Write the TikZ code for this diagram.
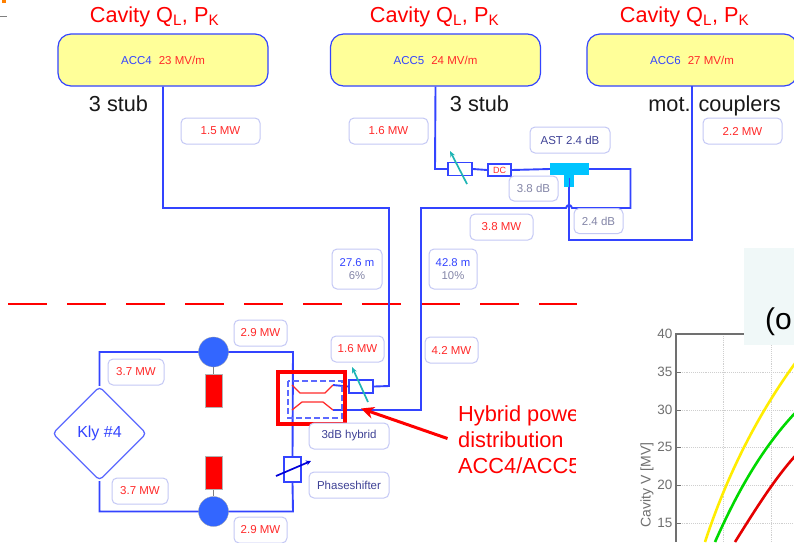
\documentclass[tikz,border=0pt]{standalone}
\usepackage{fontspec}
\setmainfont{Liberation Sans}
\usetikzlibrary{shapes.geometric,arrows.meta}
\definecolor{wire}{HTML}{3344FF}
\definecolor{lab}{HTML}{C4C8F5}
\definecolor{redtxt}{HTML}{FF2A2A}
\definecolor{navy}{HTML}{3F4296}
\definecolor{graytxt}{HTML}{8486A8}
\definecolor{cyanarrow}{HTML}{1FB5B5}
\definecolor{tee}{HTML}{00C4FF}
\definecolor{ball}{HTML}{3366FF}
\definecolor{acc}{HTML}{FFFF99}
\definecolor{axisgray}{HTML}{707070}
\definecolor{gridgray}{HTML}{CFCFCF}
\definecolor{palebox}{HTML}{F0F8F8}
\newcommand{\fs}[1]{\fontsize{#1}{#1}\selectfont}
\tikzset{
  x=1pt,y=-1pt,
  wirepath/.style={draw=wire,line width=1.9pt},
  lbl/.style={draw=lab,line width=1pt,fill=white,rounded corners=5pt,align=center,inner sep=0pt,minimum height=26pt,font=\fs{11.5},text=redtxt},
  lblnavy/.style={lbl,text=navy},
  lblgray/.style={lbl,text=graytxt,minimum height=25pt},
  lblblue/.style={lbl,text=wire,font=\fontsize{11.3}{13}\selectfont},
  accbox/.style={draw=wire,line width=1.2pt,fill=acc,rounded corners=13pt,minimum width=210pt,minimum height=52pt,inner sep=0pt,font=\fs{11.5}},
  title/.style={text=red,font=\fs{21.7},inner sep=0pt},
  stub/.style={text=black!90,font=\fs{21.7},inner sep=0pt,anchor=base},
  compbox/.style={draw=wire,line width=1.9pt,fill=white,inner sep=0pt},
  ballnode/.style={circle,fill=ball,draw=gray!70,line width=0.3pt,minimum size=30pt,inner sep=0pt},
  redblock/.style={rectangle,fill=red,draw=gray!60,line width=0.3pt,minimum width=17pt,minimum height=33pt,inner sep=0pt},
  hybridline/.style={draw=redtxt,line width=1.3pt},
  tick/.style={text=axisgray,font=\fs{13.5},inner sep=0pt,anchor=east},
  gridline/.style={draw=gridgray,line width=0.9pt,densely dotted},
  curveline/.style={line width=2.6pt},
  callout/.style={anchor=base west,inner sep=0pt,text=red,font=\fs{21.8}},
}
\begin{document}
\begin{tikzpicture}
\useasboundingbox (0,0) rectangle (794,542);
\fill[white] (0,0) rectangle (794,542);
% corner marks
\fill[orange] (2,0) rectangle (6,3);
\draw[gray,line width=0.6pt] (0,16) -- (7,16);

% plot
\begin{scope}
\clip (577,240) rectangle (794,542);
\foreach \yy in {372,410,447,485,523} \draw[gridline] (676,\yy) -- (794,\yy);
\foreach \xx in {723,771} \draw[gridline] (\xx,334) -- (\xx,542);
\draw[axisgray,line width=1.2pt] (676,542) -- (676,334) -- (794,334);
\foreach \yy/\tt in {334/40,372/35,410/30,447/25,485/20,523/15}{
  \draw[axisgray,line width=0.8pt] (676,\yy) -- (681,\yy);
  \node[tick] at (672.5,\yy) {\tt};
}
\node[rotate=90,text=axisgray,font=\fs{14},inner sep=0pt] (vlabel) at (647,485) {Cavity V  [MV]};
\draw[curveline,yellow!95!orange] (705,542) .. controls (722,490) and (750,425) .. (796,362);
\draw[curveline,green!85!black] (715,542) .. controls (735,497) and (760,450) .. (796,412);
\draw[curveline,red!90!black] (735,542) .. controls (755,510) and (775,478) .. (796,455);
\fill[palebox] (744,248) rectangle (794,345);
\node[anchor=base west,inner sep=0pt,font=\fs{30},text=black] (opart) at (765,329) {(o};
\end{scope}

% dashed separator
\coordinate (sepL) at (8.4,304);
\coordinate (sepR) at (577,304);
\draw[red,line width=2pt,dash pattern=on 39pt off 20pt] (sepL) -- (sepR);

% cavities
\node[accbox] (acc4) at (163,60) {\textcolor{wire}{ACC4}\hspace{7pt}\textcolor{redtxt}{23 MV/m}};
\node[accbox] (acc5) at (435.5,60) {\textcolor{wire}{ACC5}\hspace{7pt}\textcolor{redtxt}{24 MV/m}};
\begin{scope}
\clip (577,20) rectangle (794,100);
\node[accbox] (acc6) at (692,60) {\textcolor{wire}{ACC6}\hspace{7pt}\textcolor{redtxt}{27 MV/m}};
\end{scope}
\node[title] (t4) at (154.5,17) {Cavity Q\textsubscript{L}, P\textsubscript{K}};
\node[title] (t5) at (434.5,17) {Cavity Q\textsubscript{L}, P\textsubscript{K}};
\node[title] (t6) at (684.5,17) {Cavity Q\textsubscript{L}, P\textsubscript{K}};
\node[stub] (s4) at (118.5,111) {3 stub};
\node[stub] (s5) at (479.5,111) {3 stub};
\node[stub] (s6) at (714.5,111) {mot. couplers};

% components (top)
\node[compbox,minimum width=24pt,minimum height=13pt] (att5) at (460,169) {};
\node[compbox,minimum width=23pt,minimum height=12pt,font=\fs{9},text=redtxt] (dc) at (499.5,170) {DC};
\coordinate (teeL) at (550,169);
\coordinate (teeR) at (589,169);
\coordinate (teeS) at (569,187);
\node[compbox,minimum width=24pt,minimum height=13pt] (att4) at (361,386.5) {};
\node[compbox,minimum width=17pt,minimum height=25pt] (ps) at (292.5,469.5) {};
\node[diamond,draw=wire!80,line width=1.3pt,rounded corners=4pt,minimum width=94pt,minimum height=94pt,inner sep=0pt,font=\fs{16},text=wire] (kly) at (99.5,433.5) {Kly \#4};
\coordinate (hybUR) at (333,385);
\coordinate (hybLR) at (333,410);

% wires
\draw[wirepath] (acc4.south) -- (163,208) -- (389,208) -- (389,386) -- (att4.east);
\draw[wirepath] (att4.west) -- (hybUR);
\draw[wirepath] (hybLR) -- (421,410) -- (421,208) -- (566,208) .. controls (567,204) and (571,204) .. (572,208) -- (630.5,208) -- (630.5,169) -- (teeR);
\draw[wirepath] (acc5.south) -- (435,169) -- (att5.west);
\draw[wirepath] (att5.east) -- (dc.west);
\draw[wirepath] (dc.east) -- (teeL);
\draw[wirepath] (teeS) -- (569,240) -- (692,240) -- (692,86);
\draw[wirepath] (kly.north) -- (99.5,352) -- (293,352) -- (ps.north);
\draw[wirepath] (ps.south) -- (293,511.5) -- (99.5,511.5) -- (kly.south);
\node[compbox,minimum width=17pt,minimum height=25pt] at (ps) {};
\node[compbox,minimum width=24pt,minimum height=13pt] at (att5) {};
\node[compbox,minimum width=24pt,minimum height=13pt] at (att4) {};

% tee
\fill[tee] (550,163) rectangle (589,175);
\fill[tee] (564,175) rectangle (574,187);
\draw[wire,line width=0.8pt] (569,178) -- (teeS);

% klystron arms
\node[redblock] (rb1) at (213.5,391) {};
\node[redblock] (rb2) at (213.5,473) {};
\node[ballnode] (b1) at (213.5,352) {};
\node[ballnode] (b2) at (213.5,511.5) {};
\draw[gray,line width=1.2pt] (b1) -- (rb1);
\draw[gray,line width=1.2pt] (b2) -- (rb2);

% hybrid
\draw[wire!80,line width=1.2pt,dash pattern=on 6pt off 3pt] (288,381) rectangle (342,418);
\draw[hybridline] (292,385) -- (300,393) -- (325,393) -- (hybUR);
\draw[hybridline] (292,410) -- (302,402) -- (323,402) -- (hybLR);
\draw[red,line width=3.8pt] (278,372) rectangle (345,424);

% adjuster arrows
\draw[cyanarrow,line width=1.7pt,-{Stealth[length=6pt,width=5pt]}] (467,184) -- (450,151);
\draw[cyanarrow,line width=1.7pt,-{Stealth[length=6pt,width=5pt]}] (368,402) -- (352,367);
\draw[blue!85!black,line width=1.7pt,-{Stealth[length=5pt,width=5pt]}] (276,476) -- (311,461);

% labels
\node[lbl,minimum width=79pt] (l1) at (220.5,131) {1.5 MW};
\node[lbl,minimum width=79pt] (l2) at (388.5,131) {1.6 MW};
\node[lbl,minimum width=79pt] (l3) at (742.5,131) {2.2 MW};
\node[lblnavy,minimum width=80pt] (l4) at (570,140) {AST 2.4 dB};
\node[lblgray,minimum width=49pt] (l5) at (533.5,188.5) {3.8 dB};
\node[lblgray,minimum width=49pt] (l6) at (598.5,221) {2.4 dB};
\node[lbl,minimum width=63pt] (l7) at (501.5,227) {3.8 MW};
\node[lblblue,minimum width=50pt,minimum height=40pt] (l8) at (357,269) {27.6 m\\\textcolor{graytxt}{6\%}};
\node[lblblue,minimum width=48pt,minimum height=40pt] (l9) at (453,269) {42.8 m\\\textcolor{graytxt}{10\%}};
\node[lbl,minimum width=53pt] (l10) at (260.5,333) {2.9 MW};
\node[lbl,minimum width=56pt] (l11) at (136,372) {3.7 MW};
\node[lbl,minimum width=53pt] (l12) at (357.5,349) {1.6 MW};
\node[lbl,minimum width=53pt] (l13) at (451.5,350) {4.2 MW};
\node[lblnavy,minimum width=80pt] (l14) at (349,436) {3dB hybrid};
\node[lblnavy,minimum width=80pt] (l15) at (349,485) {Phaseshifter};
\node[lbl,minimum width=56pt] (l16) at (140,491) {3.7 MW};
\node[lbl,minimum width=53pt] (l17) at (260.5,530) {2.9 MW};

% hybrid callout
\begin{scope}
\clip (440,395) rectangle (575.7,480);
\node[callout] (hc1) at (458,421) {Hybrid power};
\node[callout] (hc2) at (458,447) {distribution};
\node[callout] (hc3) at (458,473) {ACC4/ACC5};
\end{scope}
\coordinate (hybTip) at (361,408.5);
\coordinate (hybTail) at (447.5,438.5);
\draw[red,line width=3pt,-{Stealth[length=13pt,width=12pt]}] (hybTail) -- (hybTip);
\end{tikzpicture}
\end{document}
